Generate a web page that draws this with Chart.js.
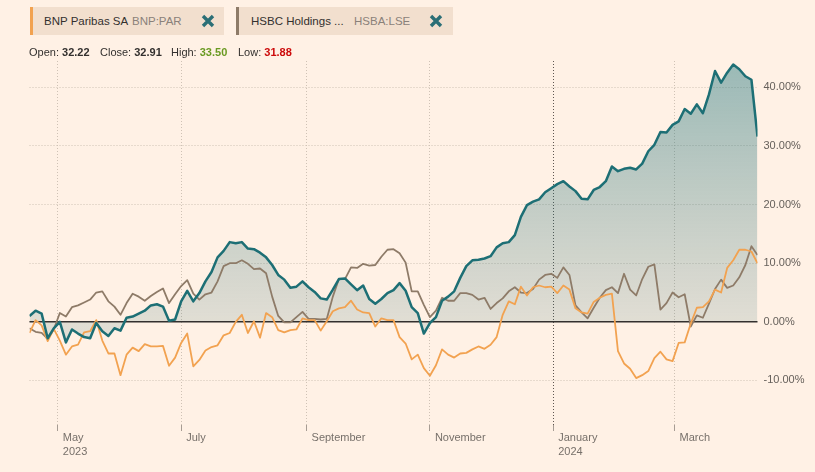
<!DOCTYPE html>
<html>
<head>
<meta charset="utf-8">
<script src="https://cdn.jsdelivr.net/npm/chart.js@4.4.1/dist/chart.umd.min.js"></script>
<style>
  body { margin: 0; background: #fff1e5; font-family: 'Liberation Sans', Arial, sans-serif; }
  #wrap { position: relative; width: 815px; height: 472px; overflow: hidden; }
  #chart { position: absolute; left: 0; top: 0; }
  .tag { position: absolute; top: 7px; height: 28px; background: #f2dfce; box-sizing: border-box; font-size: 11.5px; line-height: 28px; color: #33302e; }
  .tag span { position: absolute; top: 0; white-space: nowrap; }
  .tag .sym { color: #8a817a; }
  .tag svg { position: absolute; top: 7px; }
  .ohlc { position: absolute; top: 46px; font-size: 11px; color: #33302e; white-space: nowrap; }
  .ohlc b { font-weight: bold; }
</style>
</head>
<body>
<div id="wrap">
  <canvas id="chart" width="815" height="472"></canvas>

  <div class="tag" style="left:30px;width:194px;border-left:3px solid #f2a250;">
    <span style="left:11px">BNP Paribas SA</span>
    <span class="sym" style="left:99px">BNP:PAR</span>
    <svg style="left:168px" width="14" height="14" viewBox="0 0 14 14"><path d="M2 2L12 12M12 2L2 12" stroke="#2b6f76" stroke-width="3.4"/></svg>
  </div>
  <div class="tag" style="left:236px;width:217px;border-left:3px solid #8e7b68;">
    <span style="left:12px">HSBC Holdings ...</span>
    <span class="sym" style="left:115px">HSBA:LSE</span>
    <svg style="left:190px" width="14" height="14" viewBox="0 0 14 14"><path d="M2 2L12 12M12 2L2 12" stroke="#2b6f76" stroke-width="3.4"/></svg>
  </div>

  <div class="ohlc" style="left:29px">Open: <b>32.22</b></div>
  <div class="ohlc" style="left:100px">Close: <b>32.91</b></div>
  <div class="ohlc" style="left:171px">High: <b style="color:#6a9a22">33.50</b></div>
  <div class="ohlc" style="left:238px">Low: <b style="color:#cc0a0a">31.88</b></div>
</div>

<script>
// one point every 3 calendar days starting 17 Apr 2023, % change from start
const startDate = Date.UTC(2023, 3, 17);
const stepDays = 3;

const mainPct = [
  1.0, 1.9, 1.4, -2.8, -1.1, 0.0, -3.5, -1.3, -2.0, -2.6,
  -2.8, -0.2, -1.6, -2.4, -1.1, -1.5, 0.7, 0.9, 1.4, 1.9,
  2.8, 3.0, 2.6, 0.2, 0.4, 3.5, 5.3, 3.5, 4.9, 6.9,
  8.5, 11.0, 12.1, 13.6, 13.4, 13.6, 12.5, 12.4, 11.8, 11.0,
  9.7, 8.0, 7.2, 5.8, 6.0, 6.9, 5.9, 5.1, 4.0, 3.8,
  5.5, 7.3, 7.4, 6.4, 5.4, 6.2, 3.9, 3.1, 3.9, 4.9,
  5.4, 6.6, 5.3, 2.5, 1.5, -2.0, -0.2, 0.8, 3.6, 4.3,
  5.2, 7.5, 9.5, 10.5, 10.6, 10.8, 11.2, 12.7, 13.4, 13.6,
  14.8, 17.9, 19.9, 20.5, 20.9, 22.1, 22.8, 23.5, 24.0, 23.1,
  22.3, 21.0, 20.9, 22.5, 23.0, 24.0, 26.5, 25.7, 26.1, 26.3,
  26.0, 27.0, 29.1, 30.2, 32.4, 32.3, 33.6, 34.2, 36.3, 35.5,
  37.1, 35.6, 38.8, 42.8, 40.8, 42.5, 43.9, 43.1, 41.9, 41.3,
  31.6
];

const bnpPct = [
  -1.9, 0.3, -0.6, -3.3, -1.2, -3.2, -5.6, -4.2, -3.9, -1.8,
  -1.6, 0.3, -3.2, -5.4, -5.4, -9.1, -5.6, -4.4, -5.0, -3.8,
  -4.2, -4.2, -4.1, -7.5, -6.1, -3.6, -2.0, -7.6, -6.5, -4.9,
  -4.3, -4.0, -2.3, -1.9, 0.0, 1.2, -1.9, 0.1, -2.7, 1.5,
  0.8, -1.4, -1.8, -1.4, -1.3, 0.6, 0.3, 0.3, -1.5, 0.1,
  1.8, 2.3, 2.5, 3.6, 2.1, 1.6, 1.5, -0.8, 0.6, 0.3,
  0.3, -2.6, -3.7, -6.4, -5.6, -7.9, -9.2, -7.4, -4.7, -5.6,
  -6.1, -5.4, -5.3, -4.7, -4.2, -4.6, -3.9, -2.6, 1.2, 3.5,
  3.0, 6.0, 4.5, 5.9, 6.2, 5.9, 6.0, 4.9, 6.2, 5.5,
  2.3, 1.6, 1.4, 3.4, 4.1, 4.6, 4.8, -5.0, -7.1, -8.0,
  -9.6, -9.1, -8.4, -6.2, -5.1, -6.4, -6.7, -3.6, -3.5, -0.3,
  2.4, 2.5, 3.5, 5.5, 5.0, 9.2, 10.5, 12.3, 12.3, 12.0,
  10.0
];

const hsbcPct = [
  -1.1, -1.7, -1.9, -2.9, -1.3, 1.5, 0.9, 2.5, 2.8, 3.3,
  3.8, 5.0, 5.2, 3.5, 2.6, 1.2, 3.2, 4.8, 4.3, 3.6,
  4.4, 5.1, 5.7, 3.2, 4.7, 6.1, 7.1, 4.8, 3.8, 4.7,
  5.0, 6.9, 9.5, 10.0, 10.0, 10.5, 9.9, 9.0, 9.1, 8.3,
  4.3, 1.0, -0.1, -0.1, 0.8, 1.7, 0.5, 0.5, 0.4, 0.5,
  4.3, 7.3, 7.3, 9.3, 9.2, 9.9, 9.6, 9.7, 11.1, 12.3,
  12.4, 11.7, 10.1, 5.2, 5.2, 2.9, 0.8, 1.9, 4.1, 3.6,
  3.6, 4.9, 4.9, 4.6, 3.8, 4.1, 2.2, 3.2, 4.0, 5.2,
  5.9, 5.0, 4.9, 5.6, 7.2, 8.0, 8.2, 7.5, 9.3, 8.0,
  2.8, 1.6, 0.6, 2.4, 4.1, 5.4, 5.9, 4.9, 8.2, 5.5,
  4.5, 7.3, 9.4, 9.8, 2.1, 3.2, 5.0, 4.2, 4.7, -0.8,
  1.1, 0.7, 3.1, 5.6, 7.2, 5.8, 6.2, 7.6, 9.7, 12.9,
  11.4
];

const tickDates = ['2023-05-01', '2023-07-01', '2023-09-01', '2023-11-01', '2024-01-01', '2024-03-01'];
const tickLabels = [['May', '2023'], ['July'], ['September'], ['November'], ['January', '2024'], ['March']];
const yTicks = [-10, 0, 10, 20, 30, 40];

const dayOf = (s) => (Date.parse(s + 'T00:00:00Z') - startDate) / 86400000;
const tickDays = tickDates.map(dayOf);
const yearDay = dayOf('2024-01-01');
const toPoints = (arr) => arr.map((v, i) => ({ x: i * stepDays, y: v }));

function fillGradient(context) {
  const chart = context.chart;
  const area = chart.chartArea;
  if (!area) return 'rgba(13,118,128,0.2)';
  const y0 = chart.scales.y.getPixelForValue(0);
  const f = Math.min(Math.max((y0 - area.top) / (area.bottom - area.top), 0), 1);
  const g = chart.ctx.createLinearGradient(0, area.top, 0, area.bottom);
  g.addColorStop(0, 'rgba(13,108,118,0.42)');
  g.addColorStop(f, 'rgba(40,105,110,0.14)');
  g.addColorStop(1, 'rgba(40,105,110,0.12)');
  return g;
}

const zeroLine = {
  id: 'zeroLine',
  beforeDatasetsDraw(chart) {
    const { ctx, chartArea } = chart;
    const y = chart.scales.y.getPixelForValue(0);
    ctx.save();
    ctx.strokeStyle = '#33302e';
    ctx.lineWidth = 1.5;
    ctx.beginPath();
    ctx.moveTo(chartArea.left, y);
    ctx.lineTo(chartArea.right, y);
    ctx.stroke();
    ctx.restore();
  }
};

const gridCol = '#cfc2b5';

new Chart(document.getElementById('chart'), {
  type: 'line',
  data: {
    datasets: [
      { label: 'Main', data: toPoints(mainPct), borderColor: '#1d6f75', borderWidth: 2.5, fill: 'origin', backgroundColor: fillGradient },
      { label: 'BNP Paribas SA', data: toPoints(bnpPct), borderColor: '#f2a250', borderWidth: 1.8, fill: false },
      { label: 'HSBC Holdings', data: toPoints(hsbcPct), borderColor: '#8e7b68', borderWidth: 1.8, fill: false }
    ]
  },
  options: {
    responsive: false,
    animation: false,
    events: [],
    layout: { padding: { left: 29.5, top: 61, right: 0, bottom: 0 } },
    elements: { point: { radius: 0 }, line: { tension: 0, borderJoinStyle: 'round' } },
    plugins: {
      legend: { display: false },
      tooltip: { enabled: false },
      filler: { drawTime: 'beforeDatasetsDraw' }
    },
    scales: {
      x: {
        type: 'linear',
        min: 0,
        max: 360,
        afterBuildTicks: (s) => { s.ticks = tickDays.map((v) => ({ value: v })); },
        afterFit: (s) => { s.height = 47; },
        border: { display: false, dash: [1, 2] },
        grid: {
          color: (c) => (c.tick && c.tick.value === yearDay ? '#5e5650' : gridCol),
          tickColor: '#a69c93',
          tickLength: 6,
          tickBorderDash: [],
          lineWidth: 1
        },
        ticks: {
          autoSkip: false,
          maxRotation: 0,
          align: 'start',
          labelOffset: 5,
          padding: 0,
          color: '#77706a',
          font: { family: "'Liberation Sans', Arial, sans-serif", size: 11, lineHeight: 1.3 },
          callback: (v, i) => tickLabels[i]
        }
      },
      y: {
        position: 'right',
        min: -17.6,
        max: 44.5,
        afterBuildTicks: (s) => { s.ticks = yTicks.map((v) => ({ value: v })); },
        afterFit: (s) => { s.width = 57.5; },
        border: { display: false, dash: [1, 2] },
        grid: { color: gridCol, drawTicks: false },
        ticks: {
          padding: 6,
          color: '#66605b',
          font: { family: "'Liberation Sans', Arial, sans-serif", size: 11 },
          callback: (v) => v.toFixed(2) + '%'
        }
      }
    }
  },
  plugins: [zeroLine]
});
</script>
</body>
</html>
